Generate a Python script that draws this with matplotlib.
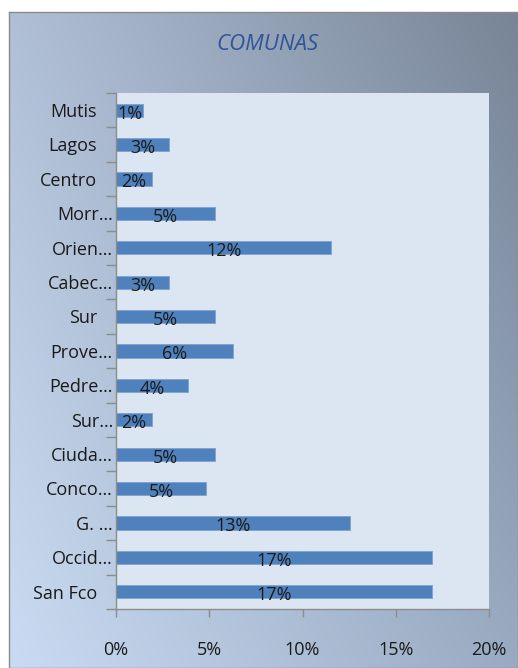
import numpy as np
import matplotlib
matplotlib.use("Agg")
import matplotlib.pyplot as plt
from matplotlib.ticker import FuncFormatter
from matplotlib.transforms import blended_transform_factory, offset_copy

plt.rcParams['font.family'] = ['Open Sans', 'DejaVu Sans']

comunas = ['Mutis', 'Lagos', 'Centro', 'Morr…', 'Orien…', 'Cabec…', 'Sur',
           'Prove…', 'Pedre…', 'Sur…', 'Ciuda…', 'Conco…', 'G. …', 'Occid…', 'San Fco']
porcentajes = [1.45, 2.85, 1.95, 5.3, 11.55, 2.85, 5.3,
               6.3, 3.85, 1.95, 5.3, 4.85, 12.55, 16.95, 16.95]
x_ticks = [0, 5, 10, 15, 20]

W, H = 518, 668
fig = plt.figure(figsize=(W / 100, H / 100), dpi=100)

# gradient background frame
bg = fig.add_axes([9 / W, 0, 1 - 9 / W, 1 - 12 / H])
tl = np.array([0.69, 0.75, 0.84])
tr = np.array([0.47, 0.52, 0.59])
bl = np.array([0.79, 0.86, 0.95])
br = np.array([0.60, 0.67, 0.76])
u = np.linspace(0, 1, 200)[None, :, None]
v = np.linspace(0, 1, 200)[:, None, None]
grad = (1 - v) * ((1 - u) * tl + u * tr) + v * ((1 - u) * bl + u * br)
bg.imshow(grad, aspect='auto', extent=[0, 1, 0, 1], origin='upper')
bg.set_xticks([])
bg.set_yticks([])
for s in bg.spines.values():
    s.set_color('#8a8a8a')
    s.set_linewidth(1.0)

fig.text(267 / W, 1 - 45 / H, 'COMUNAS', ha='center', va='center',
         fontsize=16, style='italic', color='#2F5597')

ax = fig.add_axes([116 / W, 1 - 609 / H, (489 - 116) / W, (609 - 93) / H])
ax.set_facecolor('#DCE6F2')
y = np.arange(len(comunas))
ax.barh(y, porcentajes, height=0.38, color='#4F81BD', edgecolor='#7FA2CE', linewidth=0.6)
for yi, p in zip(y, porcentajes):
    ax.text(p / 2, yi + 0.1, f'{round(p)}%', ha='center', va='center',
            fontsize=13, color='#1a1a1a')

ax.set_xlim(0, 20)
ax.set_ylim(len(comunas) - 0.5, -0.5)
ax.set_xticks(x_ticks)
ax.xaxis.set_major_formatter(FuncFormatter(lambda v, p: f'{v:.0f}%'))
ax.set_yticks(y)
ax.set_yticklabels([])
ax.set_yticks(np.arange(len(comunas) + 1) - 0.5, minor=True)
ax.tick_params(axis='y', which='major', length=0)
ax.tick_params(axis='y', which='minor', length=7, color='#8c8c8c', width=1)
ax.tick_params(axis='x', length=6, color='#8c8c8c', width=1, pad=17,
               labelsize=13, labelcolor='#1a1a1a')

# category labels: truncated names reach closer to the axis
trans = blended_transform_factory(ax.transAxes, ax.transData)
for yi, name in zip(y, comunas):
    dx = -3 if name.endswith('…') else -19
    ax.text(0, yi + 0.05, name, ha='right', va='center', fontsize=13, color='#1a1a1a',
            transform=offset_copy(trans, fig=fig, x=dx, units='dots'))

for side in ['top', 'right']:
    ax.spines[side].set_visible(False)
for side in ['left', 'bottom']:
    ax.spines[side].set_color('#8c8c8c')
    ax.spines[side].set_linewidth(1)

fig.savefig('out.png', dpi=100)
